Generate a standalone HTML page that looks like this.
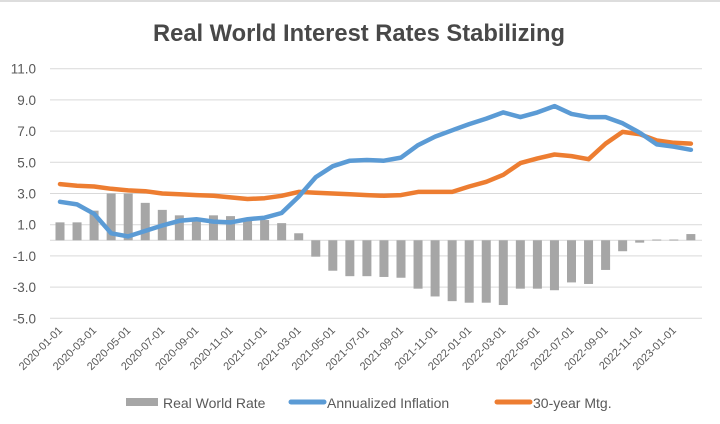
<!DOCTYPE html>
<html><head><meta charset="utf-8"><style>
body{margin:0;background:#fff;}
svg{display:block;font-family:"Liberation Sans",Arial,sans-serif;}
</style></head><body>
<svg id="chart" width="720" height="424" viewBox="0 0 720 424" xmlns="http://www.w3.org/2000/svg">
<rect width="720" height="424" fill="#fff"/>
<line x1="0" y1="1" x2="720" y2="1" stroke="#ddd" stroke-width="2"/>
<text x="359" y="41" text-anchor="middle" font-size="24" font-weight="bold" fill="#484848" textLength="412" lengthAdjust="spacingAndGlyphs">Real World Interest Rates Stabilizing</text>
<g id="grid"></g><g id="bars"></g><g id="lines"></g><g id="xlabels"></g>
<g>
<rect x="126" y="398" width="32" height="8" fill="#a6a6a6"/>
<text x="163" y="408" font-size="14" fill="#595959">Real World Rate</text>
<line x1="291" y1="402" x2="324" y2="402" stroke="#5b9bd5" stroke-width="5" stroke-linecap="round"/>
<text x="327" y="408" font-size="14" fill="#595959">Annualized Inflation</text>
<line x1="497" y1="402" x2="530" y2="402" stroke="#ed7d31" stroke-width="5" stroke-linecap="round"/>
<text x="533" y="408" font-size="14" fill="#595959">30-year Mtg.</text>
</g>
</svg>
<script>
const months = [];
for (let y = 2020; y <= 2023; y++) for (let m = 1; m <= 12; m++) { if (months.length < 38) months.push(y + '-' + String(m).padStart(2,'0') + '-01'); }
const realRate = [1.15,1.15,1.9,3.0,3.0,2.4,1.95,1.6,1.4,1.6,1.55,1.3,1.3,1.1,0.45,-1.05,-1.95,-2.3,-2.3,-2.35,-2.4,-3.1,-3.6,-3.9,-4.0,-4.0,-4.15,-3.1,-3.1,-3.2,-2.7,-2.8,-1.9,-0.7,-0.15,0.05,0.05,0.4];
const inflation = [2.47,2.3,1.7,0.45,0.25,0.6,0.95,1.25,1.35,1.2,1.15,1.35,1.45,1.75,2.8,4.05,4.75,5.1,5.15,5.1,5.3,6.1,6.65,7.05,7.45,7.8,8.2,7.9,8.2,8.6,8.1,7.9,7.9,7.5,6.9,6.15,6.0,5.8];
const mortgage = [3.6,3.5,3.45,3.3,3.2,3.15,3.0,2.95,2.9,2.85,2.75,2.65,2.7,2.85,3.1,3.05,3.0,2.95,2.9,2.85,2.9,3.1,3.1,3.1,3.45,3.75,4.2,4.95,5.25,5.5,5.4,5.2,6.2,6.95,6.8,6.4,6.25,6.2];
const yTicks = [11,9,7,5,3,1,-1,-3,-5];

const NS = 'http://www.w3.org/2000/svg';
const yScale = v => 240.3 - v * 15.6;
const xScale = i => 60 + i * 17.05;
function mk(tag, attrs, parent) { const e = document.createElementNS(NS, tag); for (const k in attrs) e.setAttribute(k, attrs[k]); parent.appendChild(e); return e; }

const grid = document.getElementById('grid');
yTicks.forEach(t => {
  const l = mk('line', {x1:50, x2:702, y1:yScale(t), y2:yScale(t), stroke:'#d9d9d9', 'stroke-width':1}, grid);
  
  
  const tx = mk('text', {x:36, y:yScale(t)+5, 'text-anchor':'end', 'font-size':13.5, fill:'#595959'}, grid);
  tx.textContent = t.toFixed(1);
  
  
});
mk('line', {x1:50, x2:702, y1:yScale(0), y2:yScale(0), stroke:'#d9d9d9', 'stroke-width':1}, grid);

const bars = document.getElementById('bars');
realRate.forEach((v, i) => {
  const y0 = yScale(0), y1 = yScale(v);
  const r = mk('rect', {x:xScale(i)-4.5, y:Math.min(y0,y1), width:9, height:Math.max(1,Math.abs(y1-y0)), fill:'#a6a6a6'}, bars);
  
  
});

function drawLine(vals, color, name) {
  const d = vals.map((v,i) => (i?'L':'M') + xScale(i).toFixed(1) + ',' + yScale(v).toFixed(1)).join(' ');
  const p = mk('path', {d:d, fill:'none', stroke:color, 'stroke-width':4.5, 'stroke-linejoin':'round', 'stroke-linecap':'round'}, document.getElementById('lines'));
  
  
}
drawLine(mortgage, '#ed7d31', 'line-mortgage');
drawLine(inflation, '#5b9bd5', 'line-inflation');

const xl = document.getElementById('xlabels');
months.forEach((m, i) => {
  if (i % 2) return;
  const x = xScale(i) + 3, y = 331;
  const t = mk('text', {x:x, y:y, 'text-anchor':'end', 'font-size':11, fill:'#595959', transform:'rotate(-45 ' + x + ' ' + y + ')'}, xl);
  t.textContent = m;
  
  
});
</script>
</body></html>
